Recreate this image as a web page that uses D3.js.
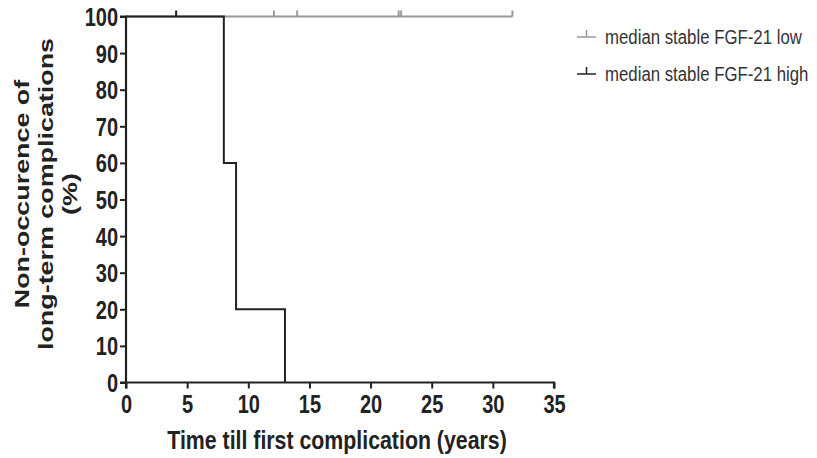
<!DOCTYPE html>
<html><head><meta charset="utf-8">
<script src="https://cdn.jsdelivr.net/npm/d3@7"></script>
<style>body{margin:0;background:#fff}svg{display:block}</style>
</head><body>
<svg id="c" width="817" height="458"></svg>
<script>
const xTicks = [0,5,10,15,20,25,30,35];
const yTicks = [0,10,20,30,40,50,60,70,80,90,100];
const seriesNames = ["median stable FGF-21 low","median stable FGF-21 high"];
const seriesColors = ["#999999","#222222"];
// step curves: [time, survival %]
const lowSteps = [[0,100],[31.6,100]];
const lowCensor = [12.1,14.0,22.3,22.5,31.6];
const highSteps = [[0,100],[8,100],[8,60],[9,60],[9,20],[13,20],[13,0]];
const highCensor = [4.1];

const font = "'Liberation Sans',Arial,sans-serif";
const SX = 0.8;
const svg = d3.select("#c");
const x = d3.scaleLinear().domain([0,35]).range([126,554]);
const y = d3.scaleLinear().domain([0,100]).range([382.5,16.5]);

const line = d3.line().x(d=>x(d[0])).y(d=>y(d[1]));
function drawSeries(steps, censor, color){
  svg.append("path").attr("d", line(steps)).attr("fill","none")
    .attr("stroke",color).attr("stroke-width",2);
  svg.selectAll(null).data(censor).enter().append("line")
    .attr("x1",d=>x(d)).attr("x2",d=>x(d))
    .attr("y1",y(100)).attr("y2",y(100)-6)
    .attr("stroke",color).attr("stroke-width",2);
}
drawSeries(lowSteps, lowCensor, seriesColors[0]);
drawSeries(highSteps, highCensor, seriesColors[1]);

const xa = svg.append("g").attr("transform",`translate(0,${y(0)})`)
  .call(d3.axisBottom(x).tickValues(xTicks).tickSize(6).tickPadding(4).tickFormat(d3.format("d")));
const ya = svg.append("g").attr("transform",`translate(${x(0)},0)`)
  .call(d3.axisLeft(y).tickValues(yTicks).tickSize(6).tickPadding(2).tickFormat(d3.format("d")));
[xa,ya].forEach(a=>{
  a.select(".domain").attr("stroke","#222").attr("stroke-width",2.2);
  a.selectAll(".tick line").attr("stroke","#222").attr("stroke-width",2);
  a.selectAll("text").attr("fill","#222").style("font-family",font)
    .style("font-weight","bold").style("font-size","25px");
});
xa.select(".domain").attr("d",`M${x(0)},6V0H${x(35)}V6`);
ya.select(".domain").attr("d",`M-6,${y(100)}H0V${y(0)}H-6`);
ya.selectAll(".tick text").attr("dy","0.36em").attr("x",-8/SX).attr("transform",`scale(${SX},1)`);
xa.selectAll(".tick text").attr("dy","0.72em").attr("y",13).attr("transform",`scale(${SX},1)`);

svg.append("text").attr("transform","translate(337,449) scale(0.82,1)").attr("text-anchor","middle")
  .style("font-family",font).style("font-weight","bold").style("font-size","26px")
  .attr("fill","#222").text("Time till first complication (years)");

const yl = ["Non-occurence of","long-term complications","(%)"];
const yBase = [28.5,53,76.5];
const yg = svg.append("g").attr("transform","translate(0,194) rotate(-90)");
yl.forEach((t,i)=>{
  yg.append("text").attr("transform",`translate(0,${yBase[i]}) scale(1.28,1)`).attr("text-anchor","middle")
    .style("font-family",font).style("font-weight","bold").style("font-size","21px")
    .attr("fill","#222").text(t);
});

const leg = svg.append("g");
seriesNames.forEach((n,i)=>{
  const cy = 37 + i*37;
  leg.append("line").attr("x1",577).attr("x2",596).attr("y1",cy).attr("y2",cy)
    .attr("stroke",seriesColors[i]).attr("stroke-width",1.5);
  leg.append("line").attr("x1",586.5).attr("x2",586.5).attr("y1",cy).attr("y2",cy-7)
    .attr("stroke",seriesColors[i]).attr("stroke-width",1.5);
  leg.append("text").attr("dy","0.35em")
    .style("font-family",font).style("font-size","21px").attr("fill","#333")
    .attr("transform",`translate(605,${cy}) scale(0.8,1)`).text(n);
});
</script>
</body></html>
